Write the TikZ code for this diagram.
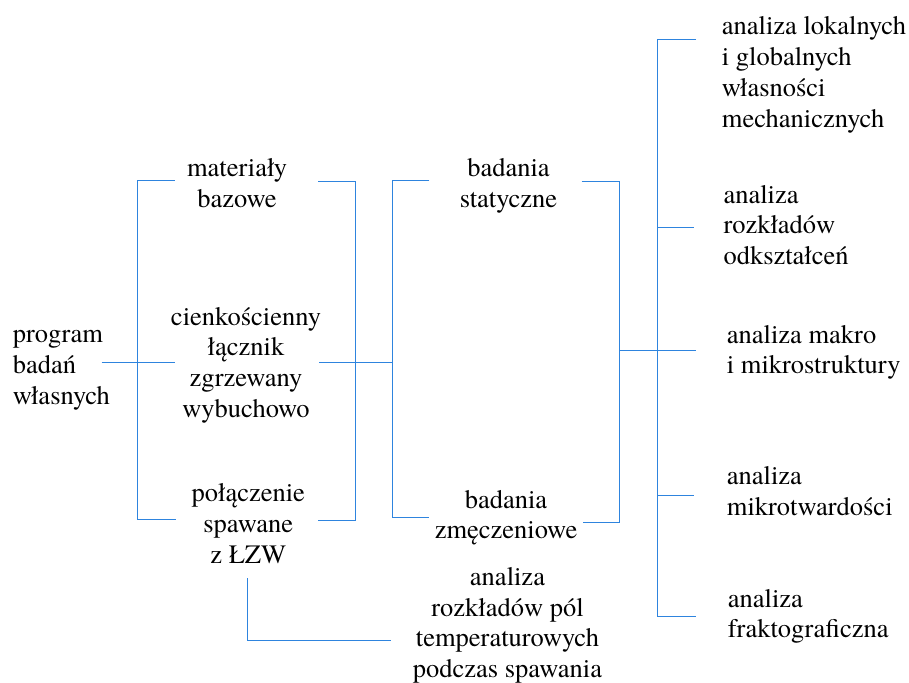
\documentclass[tikz,border=0pt]{standalone}
\usepackage{fontspec}
\setmainfont{TeX Gyre Termes}
\definecolor{lineblue}{RGB}{46,132,222}
\newcommand{\mylines}[2]{\begin{tabular}[t]{@{}#1@{}}#2\end{tabular}}
\tikzset{
  lbl/.style={inner sep=0pt, font=\fontsize{26.5}{30.7}\selectfont},
  conn/.style={draw=lineblue, line width=1.4pt, line join=miter},
}
\begin{document}
\begin{tikzpicture}[x=1pt,y=-1pt]
\fill[white] (0,0) rectangle (909,682);
\useasboundingbox (0,0) rectangle (909,682);

% text nodes
\node[lbl,anchor=base west] (prog) at (12.7,342.7) {\mylines{l}{program\\badań\\własnych}};
\node[lbl,anchor=base] (mat) at (237,176.7) {\mylines{c}{materiały\\bazowe}};
\node[lbl,anchor=base] (cien) at (246,325) {\mylines{c}{cienkościenny\\łącznik\\zgrzewany\\wybuchowo}};
\node[lbl,anchor=base] (pol) at (248.3,501.7) {\mylines{c}{połączenie\\spawane\\z ŁZW}};
\node[lbl,anchor=base] (stat) at (508.5,176.7) {\mylines{c}{badania\\statyczne}};
\node[lbl,anchor=base] (zmecz) at (506,508) {\mylines{c}{badania\\zmęczeniowe}};
\node[lbl,anchor=base] (temp) at (507.5,585.5) {\mylines{c}{analiza\\rozkładów pól\\temperaturowych\\podczas spawania}};
\node[lbl,anchor=base west] (lok) at (721.7,35) {\mylines{l}{analiza lokalnych\\i globalnych\\własności\\mechanicznych}};
\node[lbl,anchor=base west] (odk) at (723.3,203) {\mylines{l}{analiza\\rozkładów\\odkształceń}};
\node[lbl,anchor=base west] (makro) at (726.7,343) {\mylines{l}{analiza makro\\i mikrostruktury}};
\node[lbl,anchor=base west] (mikro) at (726.7,484.5) {\mylines{l}{analiza\\mikrotwardości}};
\node[lbl,anchor=base west] (frakt) at (727.7,607) {\mylines{l}{analiza\\fraktograficzna}};

% bracket 1
\coordinate (progR) at (101.5,362.5);
\coordinate (b1top) at (137.5,180.5);
\coordinate (b1mid) at (137.5,362.5);
\coordinate (b1bot) at (137.5,519.5);
\coordinate (matL) at (174.5,180.5);
\coordinate (cienL) at (175,362.5);
\coordinate (polL) at (176,519.5);
\draw[conn] (matL) -- (b1top) -- (b1bot) -- (polL);
\draw[conn] (progR) -- (cienL);

% bracket 2
\coordinate (matR) at (318.3,181.5);
\coordinate (b2top) at (355.5,181.5);
\coordinate (b2bot) at (355.5,520.5);
\coordinate (polR) at (318,520.5);
\coordinate (cienR) at (319,362.5);
\coordinate (b3mid) at (392.5,362.5);
\draw[conn] (matR) -- (b2top) -- (b2bot) -- (polR);
\draw[conn] (cienR) -- (b3mid);

% bracket 3
\coordinate (b3top) at (392.5,180.5);
\coordinate (b3bot) at (392.5,517.5);
\coordinate (statL) at (429.3,180.5);
\coordinate (zmeczL) at (429.3,517.5);
\draw[conn] (statL) -- (b3top) -- (b3bot) -- (zmeczL);

% bracket 4
\coordinate (statR) at (581.5,181.5);
\coordinate (b4top) at (619.5,181.5);
\coordinate (b4bot) at (619.5,522.5);
\coordinate (zmeczR) at (583,522.5);
\coordinate (b4mid) at (619.5,350.5);
\coordinate (b5mid) at (657.5,350.5);
\draw[conn] (statR) -- (b4top) -- (b4bot) -- (zmeczR);
\draw[conn] (b4mid) -- (b5mid);

% bracket 5
\coordinate (b5top) at (657.5,39.5);
\coordinate (b5bot) at (657.5,616.5);
\coordinate (b5a) at (657.5,227.5);
\coordinate (b5b) at (657.5,495.5);
\coordinate (lokL) at (696,39.5);
\coordinate (odkL) at (694,227.5);
\coordinate (makroL) at (696,350.5);
\coordinate (mikroL) at (694,495.5);
\coordinate (fraktL) at (695.7,616.5);
\draw[conn] (lokL) -- (b5top) -- (b5bot) -- (fraktL);
\draw[conn] (b5a) -- (odkL);
\draw[conn] (b5mid) -- (makroL);
\draw[conn] (b5b) -- (mikroL);

% weld link
\coordinate (polB) at (247.5,578.3);
\coordinate (corner) at (247.5,640.5);
\coordinate (tempL) at (390.7,640.5);
\draw[conn] (polB) -- (corner) -- (tempL);
\end{tikzpicture}
\end{document}
